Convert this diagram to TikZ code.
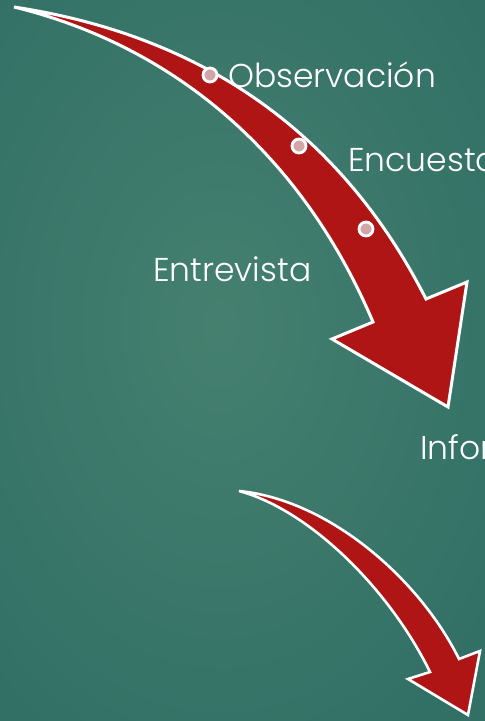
\documentclass[tikz,border=0pt]{standalone}
\usepackage{fontspec}
\setmainfont{Poppins}[UprightFont={* Light}]
\usepackage{xcolor}
\usepackage{tikz}
\usetikzlibrary{calc}
\definecolor{bgin}{HTML}{45806F}
\definecolor{bgout}{HTML}{327066}
\definecolor{arrowred}{HTML}{B01515}
\definecolor{dotpink}{HTML}{D2A6A6}
\definecolor{text}{HTML}{FFFFFF}
\tikzset{
  body/.style={fill=arrowred, draw=text, line width=3pt, line join=miter},
  thin body/.style={body, line width=2.6pt},
  dot/.style={circle, fill=dotpink, draw=text, line width=2.8pt, minimum size=14pt, inner sep=0pt},
  lab/.style={text=text, font=\fontsize{33}{35}\selectfont, anchor=base west, inner sep=0pt},
}
\begin{document}
\begin{tikzpicture}[x=1pt,y=-1pt]
  \useasboundingbox (0,0) rectangle (485,721);
  \clip (0,0) rectangle (485,721);
  \shade[inner color=bgin, outer color=bgout] (-120,-150) rectangle (560,800);
  % upper arrow
  \coordinate (tail) at (14,7);
  \coordinate (rbase) at (426,299);
  \coordinate (rtip) at (467,282);
  \coordinate (tip) at (448,407);
  \coordinate (ltip) at (332,339);
  \coordinate (lbase) at (373,322);
  \draw[body] (tail) .. controls (200,35) and (340,130) .. (rbase) -- (rtip)
    -- (tip) -- (ltip) -- (lbase) .. controls (300,150) and (170,45) .. (tail) -- cycle;
  \node[dot] (d1) at (210,75) {};
  \node[dot] (d2) at (299,146) {};
  \node[dot] (d3) at (366,229) {};
  % lower arrow
  \coordinate (tail2) at (239,491);
  \coordinate (rbase2) at (459,659);
  \coordinate (rtip2) at (480,651);
  \coordinate (tip2) at (468,715);
  \coordinate (ltip2) at (408,679);
  \coordinate (lbase2) at (430,672);
  \draw[thin body] (tail2) .. controls (330,500) and (420,580) .. (rbase2) -- (rtip2)
    -- (tip2) -- (ltip2) -- (lbase2) .. controls (390,590) and (310,510) .. (tail2) -- cycle;
  % labels
  \node[lab] (obs) at (228,87) {Observación};
  \node[lab] (enc) at (348,171) {Encuesta};
  \node[lab] (ent) at (153,281) {Entrevista};
  \node[lab] (inf) at (420,459) {Información};
\end{tikzpicture}
\end{document}
